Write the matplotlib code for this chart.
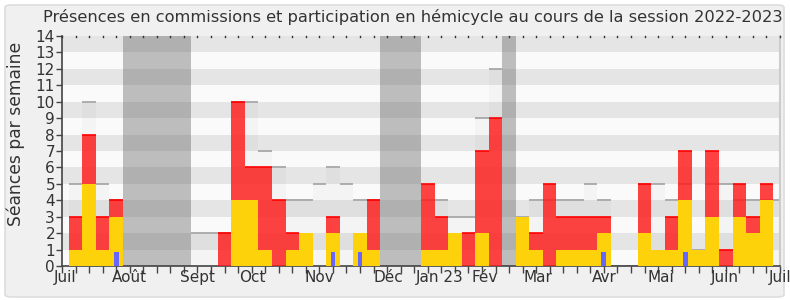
import matplotlib
matplotlib.use("Agg")
import matplotlib.pyplot as plt
import matplotlib.transforms as mtransforms
from matplotlib.patches import FancyBboxPatch
import numpy as np

plt.rcParams["font.family"] = ["DejaVu Sans"]

# ---- data (week index 1..53) ----
weeks = list(range(1, 54))
commission = [3, 8, 3, 4, 0, 0, 0, 0, 0, 0, 0, 2, 10, 6, 6, 4, 2, 0, 0, 3, 0, 0, 4,
              0, 0, 0, 5, 3, 0, 2, 7, 9, 0, 0, 2, 5, 3, 3, 3, 3, 0, 0, 5, 0, 3, 7,
              0, 7, 1, 5, 3, 5, 0]
hemicycle = [1, 5, 1, 3, 0, 0, 0, 0, 0, 0, 0, 0, 4, 4, 1, 0, 1, 2, 0, 2, 0, 2, 1,
             0, 0, 0, 1, 1, 2, 0, 2, 0, 0, 3, 1, 0, 1, 1, 1, 2, 0, 0, 2, 1, 1, 4,
             1, 3, 0, 3, 2, 4, 0]
mediane = [5, 10, 5, 4, 0, 0, 0, 0, 0, 2, 2, 2, 10, 10, 7, 6, 4, 4, 5, 6, 5, 4, 4,
           0, 0, 0, 4, 4, 3, 3, 9, 12, 0, 3, 4, 4, 4, 4, 5, 4, 0, 0, 5, 5, 4, 5,
           1, 5, 5, 4, 4, 4, 4]
questions = [0, 0, 0, 1, 0, 0, 0, 0, 0, 0, 0, 0, 0, 0, 0, 0, 0, 0, 0, 1, 0, 1, 0,
             0, 0, 0, 0, 0, 0, 0, 0, 0, 0, 0, 0, 0, 0, 0, 0, 1, 0, 0, 0, 0, 0, 1,
             0, 0, 0, 0, 0, 0, 0]
vacances = [5, 6, 7, 8, 9, 24, 25, 26, 33]
month_labels = ["Juil", "Août", "Sept", "Oct", "Nov", "Déc", "Jan 23", "Fév",
                "Mar", "Avr", "Mai", "Juin", "Juil"]
month_pos = [0.2, 4.95, 10.0, 14.07, 18.97, 24.1, 27.9, 31.2, 35.1, 40.0,
             44.2, 48.9, 53.0]
n_weeks = 53
y_max = 14

W, H = 790, 300
fig = plt.figure(figsize=(W / 100, H / 100), dpi=100)
fig.patch.set_facecolor("white")
panel = FancyBboxPatch((5 / W, 3 / H), 779 / W, 292 / H,
                       boxstyle="round,pad=0,rounding_size=0.008",
                       transform=fig.transFigure, facecolor="#f0f0f0",
                       edgecolor="#dddddd", linewidth=1.2, zorder=-5)
fig.patches.append(panel)

ax = fig.add_axes([62 / W, 34 / H, 718 / W, 230 / H])
ax.set_zorder(2)
ax.set_xlim(0, n_weeks)
ax.set_ylim(0, y_max)

# background stripes
for k in range(y_max):
    ax.axhspan(k, k + 1, color="#fafafa" if k % 2 == 0 else "#e5e5e5",
               lw=0, zorder=0)

# holidays
ax.bar(vacances, [y_max] * len(vacances), width=1.0, color="#5a5a5a",
       alpha=0.38, lw=0, zorder=1)

# median presence (light)
ax.bar(weeks, mediane, width=1.0, color="black", alpha=0.025, lw=0, zorder=2)
ax.hlines(mediane, np.array(weeks) - 0.5, np.array(weeks) + 0.5,
          colors="#a8a8a8", lw=1.3, zorder=2.5)

# commissions (red)
ax.bar(weeks, commission, width=1.0, color="#ff1a1a", alpha=0.82, lw=0, zorder=3)
wc = [w for w, c in zip(weeks, commission) if c > 0]
cc = [c for c in commission if c > 0]
ax.hlines(cc, np.array(wc) - 0.5, np.array(wc) + 0.5, colors="#ff0000",
          lw=1.2, zorder=3.5)

# hemicycle participation (yellow)
ax.bar(weeks, hemicycle, width=1.0, color="#fdd20a", lw=0, zorder=4)

# questions (blue)
ax.bar(weeks, np.array(questions) * 0.87, width=0.36, color="#6666ff", lw=0,
       zorder=5)

# axes styling
ax.spines["top"].set_visible(False)
ax.spines["right"].set_color("#cccccc")
ax.spines["right"].set_linewidth(1.5)
ax.spines["left"].set_color("#444444")
ax.spines["bottom"].set_color("#444444")
ax.spines["left"].set_linewidth(1.2)
ax.spines["bottom"].set_linewidth(1.2)

ax.set_yticks(range(0, y_max + 1))
ax.tick_params(axis="y", direction="out", length=4, width=1, colors="#444444",
               labelsize=11, pad=1, labelcolor="#333333")
ax.set_xticks(range(0, n_weeks + 1))
ax.set_xticklabels([])
ax.tick_params(axis="x", which="major", direction="out", length=5, width=1,
               colors="#444444")

# month labels
trans = mtransforms.blended_transform_factory(ax.transData, fig.transFigure)
for p, lab in zip(month_pos, month_labels):
    ax.text(p, 1 - 277.5 / H, lab, transform=trans, ha="center", va="center",
            fontsize=11, color="#333333", clip_on=False)

# top ticks small dots
for t in range(0, n_weeks + 1):
    ax.plot([t, t], [y_max, y_max - 0.06], color="#333333", lw=1,
            clip_on=False, zorder=6)

fig.text(16 / W, 1 - 134 / H, "Séances par semaine", rotation=90,
         ha="center", va="center", fontsize=12.3, color="#333333")

fig.text(412.5 / W, 1 - 17 / H,
         "Présences en commissions et participation en hémicycle au cours de la session 2022-2023",
         ha="center", va="center", fontsize=11.7, color="#333333")

fig.savefig("out.png", dpi=100, facecolor=fig.get_facecolor())
